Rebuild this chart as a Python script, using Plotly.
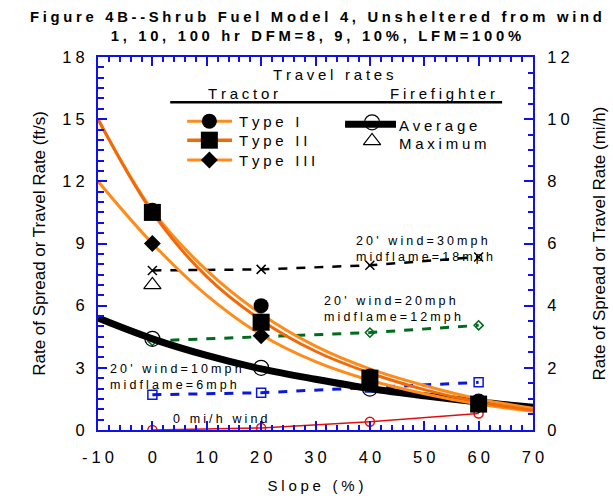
import plotly.graph_objects as go

# ---------------- data ----------------
slope_curve = [-10, 0, 10, 20, 30, 40, 50, 60, 70]          # slope (%) for fitted curves
type1_curve = [15.0, 10.6, 7.7, 5.6, 4.05, 2.95, 2.15, 1.5, 1.05]
type2_curve = [15.0, 10.5, 7.4, 5.3, 3.8, 2.75, 1.95, 1.35, 0.95]
type3_curve = [12.0, 9.0, 6.5, 4.6, 3.3, 2.4, 1.75, 1.25, 0.9]
average_curve = [5.4, 4.4, 3.6, 2.95, 2.45, 2.0, 1.65, 1.35, 1.1]

slope_pts = [0, 20, 40, 60]                                   # observed slopes
type1_pts = [10.6, 6.0, 2.6, 1.4]
type2_pts = [10.5, 5.2, 2.5, 1.25]
type3_pts = [9.0, 4.55, 2.3, 1.2]
average_pts = [4.4, 3.0, 2.0, 1.35]
maximum_pts = [7.0]
maximum_slope = [0]

wind0 = [0.0, 0.1, 0.4, 0.8]
wind10 = [1.7, 1.8, 2.05, 2.3]
wind20 = [4.3, 4.5, 4.7, 5.05]
wind30 = [7.7, 7.75, 7.95, 8.35]

x_ticks = [-10, 0, 10, 20, 30, 40, 50, 60, 70]
y_ticks = [0, 3, 6, 9, 12, 15, 18]
y2_ticks = [0, 2, 4, 6, 8, 10, 12]

FONT = "Liberation Sans, Arial, sans-serif"
AXIS = "#1010e8"
ORANGE = "#ff8c1a"
ORANGE_DK = "#f06a0a"
GREEN = "#006a1e"
BLUE = "#0a18d8"
RED = "#e01010"


def sp(s, gap="\u2005"):
    """Letter-space a string with narrow spaces."""
    return gap.join(s)


fig = go.Figure()

# wind-driven spread rates
fig.add_trace(go.Scatter(x=slope_pts, y=wind30, mode="lines+markers",
                         line=dict(color="black", width=2.5, dash="dash"),
                         marker=dict(symbol="x-thin-open", size=9, color="black",
                                     line=dict(width=1.5, color="black"))))
fig.add_trace(go.Scatter(x=slope_pts, y=wind20, mode="lines+markers",
                         line=dict(color=GREEN, width=3, dash="dash"),
                         marker=dict(symbol="diamond-open", size=7, color=GREEN,
                                     line=dict(width=1.5, color=GREEN))))
fig.add_trace(go.Scatter(x=slope_pts, y=wind10, mode="lines+markers",
                         line=dict(color=BLUE, width=3, dash="dash"),
                         marker=dict(symbol="square-open", size=9, color=BLUE,
                                     line=dict(width=1.5, color=BLUE))))
fig.add_trace(go.Scatter(x=slope_pts, y=wind0, mode="lines+markers",
                         line=dict(color=RED, width=1.5),
                         marker=dict(symbol="circle-open", size=9, color=RED,
                                     line=dict(width=1.5, color=RED))))

# firefighter average travel rate
fig.add_trace(go.Scatter(x=slope_curve, y=average_curve, mode="lines",
                         line=dict(color="black", width=7, shape="spline")))
fig.add_trace(go.Scatter(x=slope_pts, y=average_pts, mode="markers",
                         marker=dict(symbol="circle-open", size=15, color="black",
                                     line=dict(width=1.2, color="black"))))
fig.add_trace(go.Scatter(x=maximum_slope, y=maximum_pts, mode="markers",
                         marker=dict(symbol="triangle-up-open", size=15, color="black",
                                     line=dict(width=1.2, color="black"))))

# tractor travel rate curves
fig.add_trace(go.Scatter(x=slope_curve, y=type3_curve, mode="lines",
                         line=dict(color=ORANGE, width=3, shape="spline")))
fig.add_trace(go.Scatter(x=slope_curve, y=type1_curve, mode="lines",
                         line=dict(color=ORANGE, width=3, shape="spline")))
fig.add_trace(go.Scatter(x=slope_curve, y=type2_curve, mode="lines",
                         line=dict(color=ORANGE_DK, width=3, shape="spline")))
fig.add_trace(go.Scatter(x=slope_pts, y=type1_pts, mode="markers",
                         marker=dict(symbol="circle", size=15, color="black")))
fig.add_trace(go.Scatter(x=slope_pts, y=type2_pts, mode="markers",
                         marker=dict(symbol="square", size=17, color="black")))
fig.add_trace(go.Scatter(x=slope_pts, y=type3_pts, mode="markers",
                         marker=dict(symbol="diamond", size=13, color="black")))

# key samples, placed on an overlay axis spanning the plot area (0..1)
key_rows = [
    dict(x=[0.205, 0.308], y=[0.828, 0.828], lc=ORANGE, lw=3, sym="circle", ms=15, mx=0.256),
    dict(x=[0.205, 0.308], y=[0.777, 0.777], lc=ORANGE_DK, lw=3.5, sym="square", ms=17, mx=0.256),
    dict(x=[0.205, 0.308], y=[0.724, 0.724], lc=ORANGE, lw=3, sym="diamond", ms=13, mx=0.256),
]
for r in key_rows:
    fig.add_trace(go.Scatter(x=r["x"], y=r["y"], mode="lines", xaxis="x3", yaxis="y3",
                             line=dict(color=r["lc"], width=r["lw"])))
    fig.add_trace(go.Scatter(x=[r["mx"]], y=[r["y"][0]], mode="markers", xaxis="x3", yaxis="y3",
                             marker=dict(symbol=r["sym"], size=r["ms"], color="black")))
fig.add_trace(go.Scatter(x=[0.568, 0.685], y=[0.820, 0.820], mode="lines", xaxis="x3", yaxis="y3",
                         line=dict(color="black", width=7)))
fig.add_trace(go.Scatter(x=[0.630], y=[0.825], mode="markers", xaxis="x3", yaxis="y3",
                         marker=dict(symbol="circle-open", size=15, color="black",
                                     line=dict(width=1.2, color="black"))))
fig.add_trace(go.Scatter(x=[0.630], y=[0.775], mode="markers", xaxis="x3", yaxis="y3",
                         marker=dict(symbol="triangle-up-open", size=15, color="black",
                                     line=dict(width=1.2, color="black"))))

ann = []
def note(text, x, y, size=15, xanchor="left", ref="x3", **kw):
    ann.append(dict(text=text, x=x, y=y, xref=ref, yref=ref.replace("x", "y"),
                    showarrow=False, xanchor=xanchor, yanchor="middle", align="left",
                    font=dict(family=FONT, size=size, color="black"), **kw))

note(sp("Travel rates"), 0.540, 0.952, xanchor="center")
note(sp("Tractor"), 0.333, 0.903, xanchor="center")
note(sp("Firefighter"), 0.791, 0.903, xanchor="center")
note(sp("Type I"), 0.320, 0.828)
note(sp("Type II"), 0.320, 0.775)
note(sp("Type III"), 0.320, 0.722)
note(sp("Average"), 0.688, 0.817)
note(sp("Maximum"), 0.688, 0.767)

# wind labels in data units
note(sp("20' wind=30mph") + "<br>" + sp("midflame=18mph"), 37.1, 8.75, size=12.5, ref="x")
note(sp("20' wind=20mph") + "<br>" + sp("midflame=12mph"), 31.2, 5.84, size=12.5, ref="x")
note(sp("20' wind=10mph") + "<br>" + sp("midflame=6mph"), -8.2, 2.58, size=12.5, ref="x")
note(sp("0 mi/h wind"), 3.4, 0.53, size=12.5, ref="x")

# title
ann.append(dict(text="<b>" + sp("Figure 4B--Shrub Fuel Model 4, Unsheltered from wind") + "</b><br><b>"
                + sp("1, 10, 100 hr DFM=8, 9, 10%, LFM=100%") + "</b>",
                x=0.5, y=1.0, yshift=31, xref="paper", yref="paper", yanchor="middle",
                xanchor="center", showarrow=False,
                font=dict(family=FONT, size=14.8, color="black")))

fig.update_layout(annotations=ann)

fig.add_shape(type="line", xref="x domain", yref="y domain", x0=0.166, x1=0.929,
              y0=0.879, y1=0.879, line=dict(color="black", width=2.5))

axis_font = dict(family=FONT, size=17, color="black")
tick_font = dict(family=FONT, size=16.5, color="black")
fig.update_layout(
    width=613, height=500,
    margin=dict(l=98, r=80, t=57, b=70, autoexpand=False),
    paper_bgcolor="white", plot_bgcolor="white",
    showlegend=False,
    font=dict(family=FONT, color="black"),
    xaxis=dict(range=[-10, 70], tickvals=x_ticks, ticktext=[sp(str(v)) for v in x_ticks],
               automargin=False,
               showgrid=False, zeroline=False, showline=True, linecolor=AXIS, linewidth=2,
               mirror="ticks", ticks="inside", tickcolor=AXIS, ticklen=9, tickwidth=1.5,
               minor=dict(dtick=2, ticks="inside", ticklen=5, tickcolor=AXIS, tickwidth=1.5),
               tickfont=tick_font, ticklabelstandoff=11,
               title=dict(text=sp("Slope (%)"), font=dict(family=FONT, size=15), standoff=16)),
    yaxis=dict(range=[0, 18], tickvals=y_ticks, ticktext=[sp(str(v)) for v in y_ticks],
               automargin=False,
               showgrid=False, zeroline=False, showline=True, linecolor=AXIS, linewidth=2,
               ticks="inside", tickcolor=AXIS, ticklen=9, tickwidth=1.5,
               minor=dict(dtick=0.5, ticks="inside", ticklen=6, tickcolor=AXIS, tickwidth=1.5),
               tickfont=tick_font, ticklabelstandoff=8,
               title=dict(text="Rate of Spread or Travel Rate (ft/s)", font=axis_font, standoff=12)),
    yaxis2=dict(range=[0, 12], tickvals=y2_ticks, ticktext=[sp(str(v)) for v in y2_ticks],
                automargin=False,
                overlaying="y", side="right", showgrid=False, zeroline=False,
                showline=True, linecolor=AXIS, linewidth=2,
                ticks="inside", tickcolor=AXIS, ticklen=9, tickwidth=1.5,
                minor=dict(dtick=0.5, ticks="inside", ticklen=5, tickcolor=AXIS, tickwidth=1.5),
                tickfont=tick_font, ticklabelstandoff=9,
                title=dict(text="Rate of Spread or Travel Rate (mi/h)", font=axis_font, standoff=24)),
    xaxis3=dict(range=[0, 1], overlaying="x", visible=False),
    yaxis3=dict(range=[0, 1], overlaying="y", visible=False),
)

# a hidden trace keeps the right axis drawn
fig.add_trace(go.Scatter(x=[None], y=[None], yaxis="y2", showlegend=False))

fig.write_html("out.html")
